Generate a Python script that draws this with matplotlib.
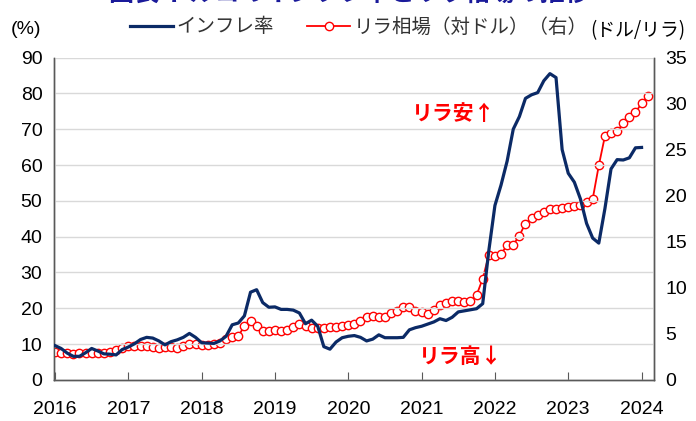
import matplotlib
matplotlib.use("Agg")
import matplotlib.pyplot as plt
from matplotlib.lines import Line2D
import numpy as np

# Monthly data, inflation Jan 2016 - Jan 2024 (%), lira Jan 2016 - Feb 2024 (TRY per USD)
inflation = [
    9.6, 8.8, 7.5, 6.6, 6.6, 7.6, 8.8, 8.1, 7.3, 7.2, 7.0, 8.5,
    9.2, 10.1, 11.3, 11.9, 11.7, 10.9, 9.8, 10.7, 11.2, 11.9, 13.0, 11.9,
    10.4, 10.3, 10.2, 10.9, 12.2, 15.4, 15.9, 17.9, 24.5, 25.2, 21.6, 20.3,
    20.4, 19.7, 19.7, 19.5, 18.7, 15.7, 16.7, 15.0, 9.3, 8.6, 10.6, 11.8,
    12.2, 12.4, 11.9, 10.9, 11.4, 12.6, 11.8, 11.8, 11.8, 11.9, 14.0, 14.6,
    15.0, 15.6, 16.2, 17.1, 16.6, 17.5, 19.0, 19.3, 19.6, 19.9, 21.3, 36.1,
    48.7, 54.4, 61.1, 70.0, 73.5, 78.6, 79.6, 80.2, 83.5, 85.5, 84.4, 64.3,
    57.7, 55.2, 50.5, 43.7, 39.6, 38.2, 47.8, 58.9, 61.5, 61.4, 62.0, 64.8,
    64.9,
]
lira = [
    2.99, 2.95, 2.89, 2.85, 2.94, 2.92, 2.97, 2.96, 2.97, 3.07, 3.24, 3.47,
    3.70, 3.67, 3.65, 3.65, 3.56, 3.52, 3.56, 3.53, 3.50, 3.69, 3.89, 3.86,
    3.77, 3.78, 3.88, 4.06, 4.41, 4.63, 4.76, 5.86, 6.35, 5.83, 5.34, 5.32,
    5.38, 5.27, 5.43, 5.77, 6.04, 5.86, 5.69, 5.60, 5.68, 5.80, 5.73, 5.82,
    5.92, 6.05, 6.35, 6.86, 6.99, 6.83, 6.86, 7.28, 7.50, 7.87, 7.89, 7.50,
    7.37, 7.13, 7.57, 8.16, 8.36, 8.62, 8.60, 8.49, 8.56, 9.21, 11.00, 13.56,
    13.47, 13.68, 14.63, 14.66, 15.68, 16.98, 17.55, 17.93, 18.26, 18.58, 18.61, 18.65,
    18.79, 18.84, 19.01, 19.35, 19.64, 23.28, 26.46, 26.85, 26.97, 27.87, 28.57, 29.05,
    30.01, 30.80,
]
years = [2016, 2017, 2018, 2019, 2020, 2021, 2022, 2023, 2024]
left_ticks = [0, 10, 20, 30, 40, 50, 60, 70, 80, 90]
right_ticks = [0, 5, 10, 15, 20, 25, 30, 35]

t_inf = 2016 + np.arange(len(inflation)) / 12.0
t_lira = 2016 + np.arange(len(lira)) / 12.0

JP = ["Noto Sans CJK JP", "DejaVu Sans"]
NUM = ["Liberation Sans", "DejaVu Sans"]
NAVY = "#0b2a66"
RED = "#ff0000"

fig = plt.figure(figsize=(6.96, 4.21), dpi=100)
ax = fig.add_axes([0.0769, 0.0974, 0.9397 - 0.0769, 0.8634 - 0.0974])
ax2 = ax.twinx()

ax.plot(t_inf, inflation, color=NAVY, lw=2.3, solid_joinstyle="round", zorder=3)
ax2.plot(t_lira, lira, color=RED, lw=1.3, marker="o", ms=6, mfc="white",
         mec=RED, mew=1.0, zorder=4)

ax.set_zorder(ax2.get_zorder() + 1)
ax.patch.set_visible(False)

ax.set_xlim(2015.98, 2024.17)
ax.set_ylim(0, 90)
ax2.set_ylim(0, 35)
ax.set_yticks(left_ticks)
ax2.set_yticks(right_ticks)
ax.set_xticks(years)
ax.set_xticklabels([str(y) for y in years], fontfamily=NUM, fontsize=14)
ax.set_yticklabels([str(v) for v in left_ticks], fontfamily=NUM, fontsize=14)
ax2.set_yticklabels([str(v) for v in right_ticks], fontfamily=NUM, fontsize=14)

ax.grid(axis="y", color="#d9d9d9", lw=1.0)
ax.set_axisbelow(True)
ax.tick_params(axis="y", length=0, pad=8)
ax2.tick_params(axis="y", length=0, pad=8)
ax.tick_params(axis="x", direction="in", length=6, color="#595959", pad=15)

for a in (ax, ax2):
    a.spines["top"].set_visible(False)
    for s in ("left", "right", "bottom"):
        a.spines[s].set_color("#595959")
        a.spines[s].set_linewidth(1.0)

# annotations
ax.text(2021.44, 74.4, "リラ安↑", color=RED, fontsize=15, fontweight="bold",
        fontfamily=JP, ha="center", va="center")
ax.text(2021.53, 6.7, "リラ高↓", color=RED, fontsize=15, fontweight="bold",
        fontfamily=JP, ha="center", va="center")

# axis unit labels
fig.text(26 / 696, 1 - 30 / 421, "(%)", fontfamily=NUM, fontsize=14,
         ha="center", va="center")
fig.text(590 / 696, 1 - 31 / 421, "(ドル/リラ)", fontfamily=JP, fontsize=13.5,
         ha="left", va="center")

# legend
handles = [Line2D([], [], color=NAVY, lw=2.3),
           Line2D([], [], color=RED, lw=1.3, marker="o", ms=6, mfc="white",
                  mec=RED, mew=1.0)]
labels = ["インフレ率", "リラ相場（対ドル）（右）"]
fig.legend(handles, labels, loc="center", bbox_to_anchor=(359 / 696, 1 - 27 / 421),
           ncol=2, frameon=False, prop={"family": JP, "size": 14},
           handlelength=2.2, handletextpad=0.2, columnspacing=1.7,
           labelcolor="#333333")

# title (mostly cut off at top of image, as in the source)
fig.text(349 / 696, 1 - 1 / 421, "図表 トルコのインフレ率とリラ相場の推移",
         fontfamily=JP, fontsize=18, fontweight="bold", color="#1a1a9a",
         ha="center", va="baseline")

fig.savefig("out.png", dpi=100)
